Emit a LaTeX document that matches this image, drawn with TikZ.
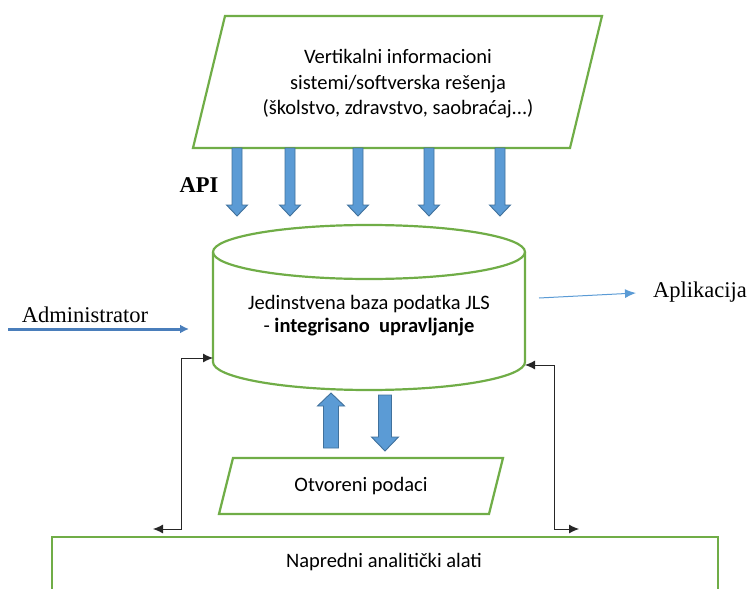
\documentclass[tikz,border=0pt]{standalone}
\usepackage{fontspec}
\setmainfont{Liberation Serif}
\newfontfamily\calibri{Carlito}
\usetikzlibrary{arrows.meta}
\definecolor{frame}{HTML}{70AD47}
\definecolor{blockfill}{HTML}{5B9BD5}
\definecolor{blockline}{HTML}{41719C}
\definecolor{adminblue}{HTML}{4A7EBB}
\definecolor{applblue}{HTML}{5B9BD5}
\tikzset{
  greenline/.style={draw=frame, line width=2.2pt},
  caltext/.style={font=\calibri\fontsize{20.5}{25.5}\selectfont, align=center, inner sep=0pt},
  serlabel/.style={font=\fontsize{22.5}{26}\selectfont, inner sep=0pt},
  elbow/.style={draw=black!85, line width=0.9pt,
    {Latex[length=10pt,width=9pt]}-{Latex[length=10pt,width=9pt]}},
  blockarrow/.style={fill=blockfill, draw=blockline, line width=0.9pt},
}
% vertical block arrow: x, y start, y tip, shaft half width, head half width, signed head length
\newcommand\vblock[6]{%
  \path[blockarrow] ({#1-#4},#2) -- ({#1+#4},#2) -- ({#1+#4},{#3-#6}) -- ({#1+#5},{#3-#6})
    -- (#1,#3) -- ({#1-#5},{#3-#6}) -- ({#1-#4},{#3-#6}) -- cycle;}
\begin{document}
\begin{tikzpicture}[x=1pt,y=-1pt]
\useasboundingbox (0,0) rectangle (748,589);

% vertical systems (top parallelogram)
\draw[greenline] (225,16) -- (602,16) -- (570,148) -- (193,148) -- cycle;
\node[caltext] (vis) at (398,84)
  {Vertikalni informacioni\\sistemi/softverska rešenja\\(školstvo, zdravstvo, saobraćaj...)};

% API arrows
\foreach \xx in {237,290,358,429,500}
  \vblock{\xx}{148}{216}{5}{10.5}{11};
\node[serlabel, font=\bfseries\fontsize{22.5}{26}\selectfont] (api) at (199,185) {API};

% central database cylinder
\draw[greenline] (369,252) ellipse[x radius=156, y radius=27];
\draw[greenline] (213,252) -- (213,362) arc[start angle=180, end angle=0, x radius=156, y radius=28] -- (525,252);
\node[caltext, font=\calibri\fontsize{20.5}{23}\selectfont] (db) at (369,316)
  {Jedinstvena baza podatka JLS\\- \textbf{integrisano\ \ upravljanje}};
\coordinate (dbL) at (213,358);
\coordinate (dbR) at (525,365);
\coordinate (dbIn) at (189,329);
\coordinate (dbOut) at (539,298);

% administrator input
\coordinate (adminStart) at (8,329);
\draw[draw=adminblue, line width=3pt, -{Latex[length=9pt,width=9pt]}] (adminStart) -- (dbIn);
\node[serlabel] (admin) at (85,315) {Administrator};

% application output
\coordinate (applEnd) at (636,293);
\draw[draw=applblue, line width=1pt, -{Latex[length=11pt,width=9pt]}] (dbOut) -- (applEnd);
\node[serlabel, anchor=west] (appl) at (653,292) {Aplikacija};

% open data exchange
\vblock{331}{448}{393}{7.5}{13.5}{-13}
\vblock{385}{395}{451}{6.5}{13.5}{14}
\draw[greenline] (233,458) -- (503,458) -- (489,514) -- (219,514) -- cycle;
\node[caltext] (open) at (361,486) {Otvoreni podaci};

% advanced analytics
\draw[greenline] (52,600) -- (52,537) -- (718,537) -- (718,600);
\node[caltext, anchor=base] (tools) at (384,567) {Napredni analitički alati};
\coordinate (toolsL) at (153,529);
\coordinate (toolsR) at (579,529);

% two-way links between database and analytics
\draw[elbow] (toolsL) -- (181,529) |- (dbL);
\draw[elbow] (dbR) -- (554,365) |- (toolsR);
\end{tikzpicture}
\end{document}
